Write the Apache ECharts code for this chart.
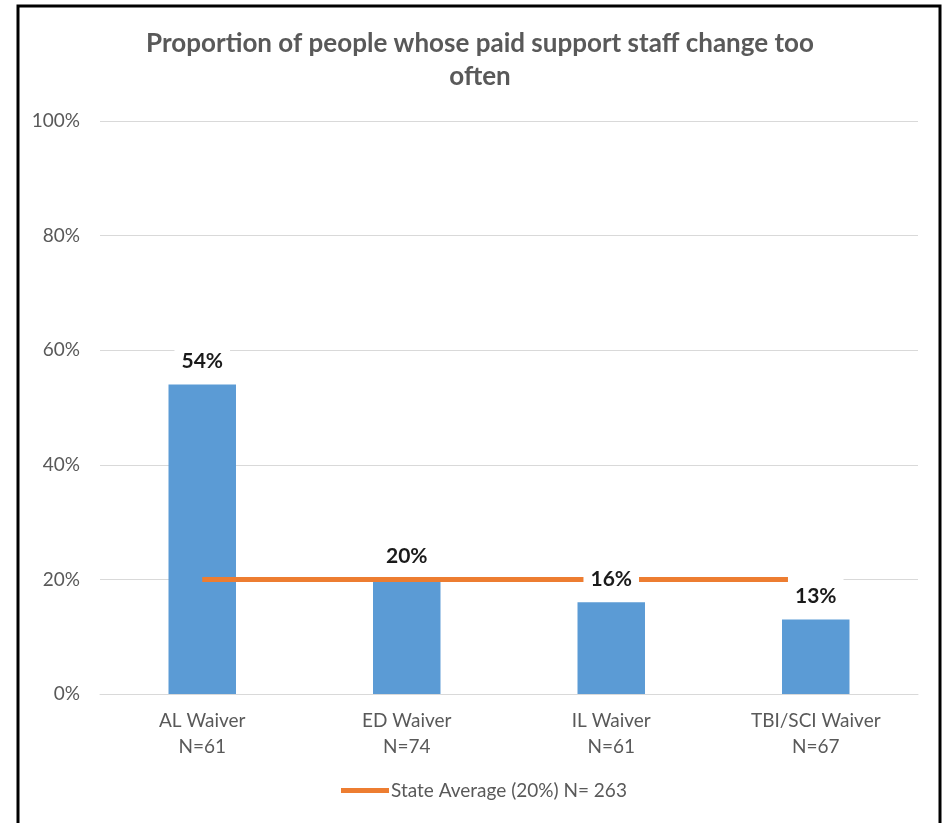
<!DOCTYPE html>
<html>
<head>
<meta charset="utf-8">
<title>Proportion of people whose paid support staff change too often</title>
<script src="https://cdn.jsdelivr.net/npm/echarts@6/dist/echarts.min.js"></script>
<style>
  html, body { margin: 0; padding: 0; background: #fff; }
  #chart { width: 947px; height: 823px; }
</style>
</head>
<body>
<div id="chart"></div>
<script>
// Waiver programs and their sample sizes
const categories = ['AL Waiver', 'ED Waiver', 'IL Waiver', 'TBI/SCI Waiver'];
const sampleSizes = [61, 74, 61, 67];
// Percent of people reporting paid support staff change too often
const waiverValues = [54, 20, 16, 13];
// Statewide average (N = 263), repeated across the categories
const stateAverage = [20, 20, 20, 20];
const yTicks = [0, 20, 40, 60, 80, 100];

const FONT = 'Lato, "Open Sans", "Noto Sans", sans-serif';
const chart = echarts.init(document.getElementById('chart'), null, { renderer: 'canvas' });

chart.setOption({
  backgroundColor: '#ffffff',
  animation: false,
  textStyle: { fontFamily: FONT },
  title: {
    text: 'Proportion of people whose paid support staff change too\noften',
    left: 480,
    top: 27,
    textAlign: 'center',
    padding: 0,
    textStyle: {
      fontFamily: FONT,
      fontSize: 26,
      fontWeight: 'bold',
      color: '#595959',
      lineHeight: 33
    }
  },
  legend: {
    data: ['State Average (20%) N= 263'],
    left: 341,
    top: 781,
    icon: 'rect',
    itemWidth: 48,
    itemHeight: 5,
    itemGap: 10,
    padding: 0,
    textStyle: { fontFamily: FONT, fontSize: 19, color: '#595959', padding: [0, 0, 0, -3] }
  },
  grid: { left: 100, right: 29, top: 121, bottom: 129 },
  xAxis: {
    type: 'category',
    data: categories,
    axisTick: { show: false },
    axisLine: { lineStyle: { color: '#d9d9d9', width: 1 } },
    axisLabel: {
      margin: 14,
      fontFamily: FONT,
      fontSize: 19,
      lineHeight: 26,
      color: '#595959',
      formatter: (v, i) => v + '\nN=' + sampleSizes[i]
    }
  },
  yAxis: {
    type: 'value',
    min: yTicks[0],
    max: yTicks[yTicks.length - 1],
    interval: yTicks[1] - yTicks[0],
    axisLine: { show: false },
    axisTick: { show: false },
    splitLine: { lineStyle: { color: '#d9d9d9', width: 1 } },
    axisLabel: {
      margin: 20,
      fontFamily: FONT,
      fontSize: 19,
      color: '#595959',
      formatter: '{value}%'
    }
  },
  series: [
    {
      name: 'Waiver',
      type: 'bar',
      data: waiverValues,
      barWidth: '33%',
      z: 2,
      itemStyle: { color: '#5B9BD5' }
    },
    {
      name: 'State Average (20%) N= 263',
      type: 'line',
      data: stateAverage,
      symbol: 'none',
      z: 3,
      itemStyle: { color: '#ED7D31' },
      lineStyle: { color: '#ED7D31', width: 5, cap: 'butt' }
    },
    {
      // value labels, stacked above the average line with a white backing box
      name: 'Waiver labels',
      type: 'bar',
      data: waiverValues,
      barWidth: '33%',
      barGap: '-100%',
      z: 4,
      silent: true,
      itemStyle: { color: 'rgba(0,0,0,0)' },
      label: {
        show: true,
        position: 'top',
        distance: 9,
        formatter: '{c}%',
        fontFamily: FONT,
        fontSize: 21,
        fontWeight: 'bold',
        lineHeight: 20,
        color: '#1a1a1a',
        backgroundColor: '#ffffff',
        padding: [12, 7, 4, 7]
      }
    }
  ],
  graphic: [
    {
      type: 'rect',
      silent: true,
      z: 100,
      shape: { x: 18, y: 6, width: 922, height: 840 },
      style: { fill: 'none', stroke: '#000000', lineWidth: 3 }
    }
  ]
});
</script>
</body>
</html>
